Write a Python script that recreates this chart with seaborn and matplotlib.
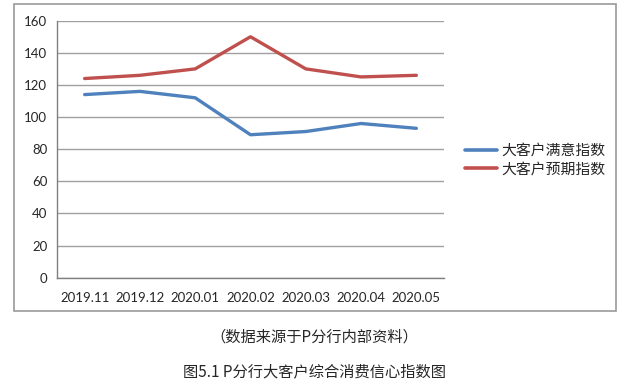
import numpy as np
import pandas as pd
import matplotlib
matplotlib.use('Agg')
import matplotlib.pyplot as plt
import seaborn as sns
from matplotlib.patches import Rectangle
from matplotlib.lines import Line2D

# 数据
months = ['2019.11', '2019.12', '2020.01', '2020.02', '2020.03', '2020.04', '2020.05']
satisfaction = [114, 116, 112, 89, 91, 96, 93]
expectation = [124, 126, 130, 150, 130, 125, 126]
series_names = ['大客户满意指数', '大客户预期指数']

sns.set_style('white')
plt.rcParams['font.family'] = ['Lato', 'Noto Sans CJK SC', 'DejaVu Sans']

df = pd.DataFrame({
    'month': months * 2,
    'value': satisfaction + expectation,
    'series': [series_names[0]] * len(months) + [series_names[1]] * len(months),
})

fig = plt.figure(figsize=(6.29, 3.79), dpi=100)
# 外框
fig.patches.append(Rectangle((14 / 629, 1 - 311 / 379), 602 / 629, 307 / 379,
                             transform=fig.transFigure, fill=False,
                             edgecolor='#9a9a9a', lw=1.2))
ax = fig.add_axes([57 / 629, 1 - 277.7 / 379, 387 / 629, 257 / 379])

sns.lineplot(data=df, x='month', y='value', hue='series',
             palette=['#4F81BD', '#C0504D'], linewidth=2.4, ax=ax, legend=False)

ax.set_ylim(0, 160)
ax.set_yticks(np.arange(0, 161, 20))
ax.set_xlim(-0.5, 6.5)
ax.set_xticks(range(len(months)))
ax.set_xticklabels(months)
ax.set_xticks(np.arange(-0.5, 7, 1), minor=True)
ax.tick_params(axis='x', which='major', length=0, pad=10, labelsize=9.5)
ax.tick_params(axis='x', which='minor', length=5, color='#808080', width=1)
ax.tick_params(axis='y', length=4, color='#808080', width=1, labelsize=9.5, pad=3)
ax.yaxis.grid(True, color='#a0a0a0', lw=1)
ax.set_axisbelow(True)
ax.set_xlabel('')
ax.set_ylabel('')
for s in ['top', 'right']:
    ax.spines[s].set_visible(False)
for s in ['left', 'bottom']:
    ax.spines[s].set_color('#808080')
    ax.spines[s].set_linewidth(1)

# 图例
handles = [Line2D([], [], color='#4F81BD', lw=2.6), Line2D([], [], color='#C0504D', lw=2.6)]
fig.legend(handles, series_names, loc='center left', bbox_to_anchor=(452 / 629, 1 - 160 / 379),
           frameon=False, prop={'family': 'Noto Sans CJK SC', 'size': 10.7},
           handlelength=2.1, handletextpad=0.35, labelspacing=0.3)

fig.text(0.5, 1 - 337 / 379, '（数据来源于P分行内部资料）', ha='center', va='center',
         family='Noto Sans CJK SC', fontsize=11)
fig.text(0.5, 1 - 372 / 379, '图5.1 P分行大客户综合消费信心指数图', ha='center', va='center',
         family='Noto Sans CJK SC', fontsize=11)

fig.savefig('out.png', dpi=100)
